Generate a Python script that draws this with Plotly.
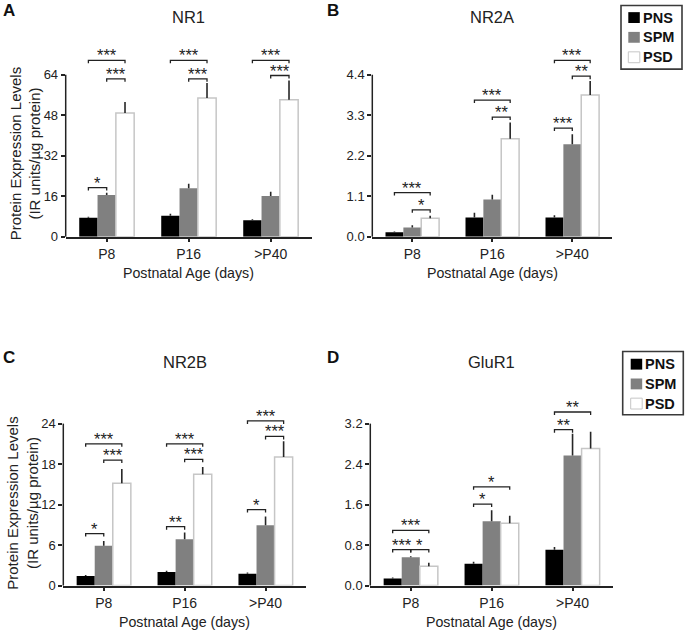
import plotly.graph_objects as go

# ---------------- data ----------------
categories = ["P8", "P16", ">P40"]
fractions = ["PNS", "SPM", "PSD"]

nr1_pns = [7.5, 8.3, 6.5]
nr1_pns_err = [0.4, 0.8, 0.4]
nr1_spm = [16.5, 19.1, 16.1]
nr1_spm_err = [0.9, 1.8, 1.7]
nr1_psd = [48.9, 54.8, 54.1]
nr1_psd_err = [4.3, 5.9, 7.6]

nr2a_pns = [0.12, 0.52, 0.52]
nr2a_pns_err = [0.02, 0.13, 0.06]
nr2a_spm = [0.25, 1.01, 2.51]
nr2a_spm_err = [0.06, 0.13, 0.27]
nr2a_psd = [0.50, 2.66, 3.85]
nr2a_psd_err = [0.07, 0.44, 0.38]

nr2b_pns = [1.41, 2.0, 1.76]
nr2b_pns_err = [0.15, 0.2, 0.19]
nr2b_spm = [5.9, 6.88, 8.93]
nr2b_spm_err = [0.7, 0.97, 1.31]
nr2b_psd = [15.17, 16.5, 19.07]
nr2b_psd_err = [2.1, 1.06, 2.3]

glur1_pns = [0.14, 0.43, 0.71]
glur1_pns_err = [0.02, 0.04, 0.05]
glur1_spm = [0.56, 1.27, 2.57]
glur1_spm_err = [0.02, 0.22, 0.43]
glur1_psd = [0.38, 1.23, 2.71]
glur1_psd_err = [0.07, 0.15, 0.33]

# y tick values / labels
nr1_ticks = [0, 16, 32, 48, 64]
nr1_ticktext = ["0", "16", "32", "48", "64"]
nr2a_ticks = [0, 1.1, 2.2, 3.3, 4.4]
nr2a_ticktext = ["0.0", "1.1", "2.2", "3.3", "4.4"]
nr2b_ticks = [0, 6, 12, 18, 24]
nr2b_ticktext = ["0", "6", "12", "18", "24"]
glur1_ticks = [0, 0.8, 1.6, 2.4, 3.2]
glur1_ticktext = ["0.0", "0.8", "1.6", "2.4", "3.2"]

# significance brackets: (category index, bar a, bar b, height, label)
nr1_sig = [(0, 0, 1, 19.4, "*"), (0, 0, 2, 69.7, "***"), (0, 1, 2, 62.4, "***"),
           (1, 0, 2, 69.7, "***"), (1, 1, 2, 62.4, "***"),
           (2, 0, 2, 69.7, "***"), (2, 1, 2, 63.7, "***")]
nr2a_sig = [(0, 0, 2, 1.20, "***"), (0, 1, 2, 0.73, "*"),
            (1, 0, 2, 3.71, "***"), (1, 1, 2, 3.25, "**"),
            (2, 0, 1, 2.95, "***"), (2, 0, 2, 4.79, "***"), (2, 1, 2, 4.36, "**")]
nr2b_sig = [(0, 0, 1, 7.7, "*"), (0, 0, 2, 21.0, "***"), (0, 1, 2, 18.6, "***"),
            (1, 0, 1, 8.73, "**"), (1, 0, 2, 21.0, "***"), (1, 1, 2, 18.7, "***"),
            (2, 0, 1, 11.27, "*"), (2, 0, 2, 24.4, "***"), (2, 1, 2, 22.1, "***")]
glur1_sig = [(0, 0, 1, 0.71, "***"), (0, 1, 2, 0.71, "*"), (0, 0, 2, 1.09, "***"),
             (1, 0, 1, 1.61, "*"), (1, 0, 2, 1.95, "*"),
             (2, 0, 1, 3.08, "**"), (2, 0, 2, 3.43, "**")]

# ---------------- styling / layout ----------------
W, H = 687, 639
FONT = "Arial, 'Liberation Sans', sans-serif"
TXT = "#222222"
fill_colors = ["#000000", "#808080", "#ffffff"]
line_colors = ["#000000", "#808080", "#c6c6c6"]
line_widths = [0, 0, 1.5]
BARGAP = 0.33
RATIO = 1.22   # plot height relative to top tick


def px(x):
    return x / W


def py(y):
    return 1 - y / H


panels = [
    dict(letter="A", title="NR1", left=65.7, right=311.7, bottom=239.7, tickpx=75.7,
         series=[(nr1_pns, nr1_pns_err), (nr1_spm, nr1_spm_err), (nr1_psd, nr1_psd_err)],
         ticks=nr1_ticks, ticktext=nr1_ticktext, sig=nr1_sig, ytitle=True, legend=None,
         letter_pos=(9, 11), title_y=17),
    dict(letter="B", title="NR2A", left=372.3, right=612.3, bottom=239.7, tickpx=75.7,
         series=[(nr2a_pns, nr2a_pns_err), (nr2a_spm, nr2a_spm_err), (nr2a_psd, nr2a_psd_err)],
         ticks=nr2a_ticks, ticktext=nr2a_ticktext, sig=nr2a_sig, ytitle=False,
         legend=dict(box=(621, 5.5, 682, 70), sq_x=628.3, rows=[17.8, 37.8, 58.0]),
         letter_pos=(333, 11), title_y=17),
    dict(letter="C", title="NR2B", left=63.3, right=306.0, bottom=593.0, tickpx=429.0,
         series=[(nr2b_pns, nr2b_pns_err), (nr2b_spm, nr2b_spm_err), (nr2b_psd, nr2b_psd_err)],
         ticks=nr2b_ticks, ticktext=nr2b_ticktext, sig=nr2b_sig, ytitle=True, legend=None,
         letter_pos=(9, 362), title_y=367),
    dict(letter="D", title="GluR1", left=370.3, right=613.0, bottom=593.0, tickpx=429.0,
         series=[(glur1_pns, glur1_pns_err), (glur1_spm, glur1_spm_err), (glur1_psd, glur1_psd_err)],
         ticks=glur1_ticks, ticktext=glur1_ticktext, sig=glur1_sig, ytitle=False,
         legend=dict(box=(622.7, 356, 683.3, 420), sq_x=630.7, rows=[368.8, 388.8, 408.7]),
         letter_pos=(333, 362), title_y=367),
]

fig = go.Figure()
shapes = []
annotations = []
xpos = [0, 1, 2]
bar_step = (1 - BARGAP) / 3

for n, p in enumerate(panels, start=1):
    sfx = "" if n == 1 else str(n)
    xa, ya = "x" + sfx, "y" + sfx
    top_tick = p["ticks"][-1]
    span_px = (p["bottom"] - p["tickpx"]) * RATIO
    ymax = top_tick * RATIO
    ydom = [py(p["bottom"]), py(p["bottom"] - span_px)]
    xdom = [px(p["left"]), px(p["right"])]

    for k, (vals, errs) in enumerate(p["series"]):
        fig.add_trace(go.Bar(
            x=xpos, y=vals, name=fractions[k], xaxis=xa, yaxis=ya, showlegend=False,
            marker=dict(color=fill_colors[k], line=dict(color=line_colors[k], width=line_widths[k])),
            error_y=dict(type="data", symmetric=False, array=errs, arrayminus=[0] * len(errs),
                         width=0, thickness=1.6, color="#262626"),
        ))

    fig.update_layout({
        "xaxis" + sfx: dict(domain=xdom, anchor=ya, range=[-0.5, 2.5], tickvals=xpos,
                            ticktext=categories, showline=True, linecolor=TXT, linewidth=1.5,
                            ticks="outside", ticklen=4, tickwidth=1.5, tickcolor=TXT,
                            tickfont=dict(size=14, color=TXT, family=FONT),
                            showgrid=False, zeroline=False, fixedrange=True),
        "yaxis" + sfx: dict(domain=ydom, anchor=xa, range=[0, ymax], tickvals=p["ticks"],
                            ticktext=p["ticktext"], showline=False, ticks="outside",
                            ticklen=4, tickwidth=1.5, tickcolor=TXT,
                            tickfont=dict(size=13, color=TXT, family=FONT),
                            showgrid=False, zeroline=False, fixedrange=True),
    })

    # y axis line only from 0 to the top tick
    y_line_top = ydom[0] + (ydom[1] - ydom[0]) * top_tick / ymax
    shapes.append(dict(type="line", xref="paper", yref="paper", x0=xdom[0], x1=xdom[0],
                       y0=ydom[0], y1=y_line_top, line=dict(color=TXT, width=1.5)))

    # significance brackets
    tick_len = ymax * 3.0 / span_px
    for (c, a, b, h, lab) in p["sig"]:
        xa0 = xpos[c] + (a - 1) * bar_step
        xb0 = xpos[c] + (b - 1) * bar_step
        shapes.append(dict(type="path", xref=xa, yref=ya,
                           path=f"M {xa0},{h - tick_len} L {xa0},{h} L {xb0},{h} L {xb0},{h - tick_len}",
                           line=dict(color=TXT, width=1.3)))
        annotations.append(dict(xref=xa, yref=ya, x=(xa0 + xb0) / 2, y=h, text=lab,
                                showarrow=False, yanchor="bottom", yshift=-6,
                                font=dict(size=16.5, color=TXT, family=FONT)))

    # title
    annotations.append(dict(xref="paper", yref="paper", x=(xdom[0] + xdom[1]) / 2,
                            y=py(p["title_y"]), text=p["title"], showarrow=False,
                            xanchor="center", yanchor="middle",
                            font=dict(size=16.5, color=TXT, family=FONT)))
    # panel letter
    annotations.append(dict(xref="paper", yref="paper", x=px(p["letter_pos"][0]),
                            y=py(p["letter_pos"][1]), text="<b>" + p["letter"] + "</b>",
                            showarrow=False, xanchor="center", yanchor="middle",
                            font=dict(size=17, color="#111111", family=FONT)))
    # x axis title
    annotations.append(dict(xref="paper", yref="paper", x=(xdom[0] + xdom[1]) / 2,
                            y=py(p["bottom"] + 36.5), text="Postnatal Age (days)",
                            showarrow=False, xanchor="center", yanchor="middle",
                            font=dict(size=14.2, color=TXT, family=FONT)))
    # y axis title
    if p["ytitle"]:
        annotations.append(dict(xref="paper", yref="paper", x=px(p["left"] - 40.7),
                                y=py((p["bottom"] + p["tickpx"]) / 2 - 1.5),
                                text="Protein Expression Levels<br>(IR units/\u00b5g protein)",
                                textangle=-90, showarrow=False, xanchor="center",
                                yanchor="middle",
                                font=dict(size=15, color=TXT, family=FONT)))

    # legend box
    lg = p["legend"]
    if lg:
        bx0, by0, bx1, by1 = lg["box"]
        shapes.append(dict(type="rect", xref="paper", yref="paper", x0=px(bx0), x1=px(bx1),
                           y0=py(by1), y1=py(by0), line=dict(color="#3a3a3a", width=1.6),
                           fillcolor="rgba(0,0,0,0)"))
        for k, name in enumerate(fractions):
            cy = lg["rows"][k]
            sx = lg["sq_x"]
            shapes.append(dict(type="rect", xref="paper", yref="paper",
                               x0=px(sx), x1=px(sx + 11.5), y0=py(cy + 5.5), y1=py(cy - 5.5),
                               fillcolor=fill_colors[k],
                               line=dict(color=line_colors[k] if k == 2 else fill_colors[k],
                                         width=1 if k == 2 else 0)))
            annotations.append(dict(xref="paper", yref="paper", x=px(sx + 12.5), y=py(cy),
                                    text="<b>" + name + "</b>", showarrow=False,
                                    xanchor="left", yanchor="middle",
                                    font=dict(size=14.5, color="#111111", family=FONT)))

fig.update_layout(
    width=W, height=H, margin=dict(l=0, r=0, t=0, b=0),
    paper_bgcolor="white", plot_bgcolor="white",
    barmode="group", bargap=BARGAP, bargroupgap=0,
    showlegend=False, shapes=shapes, annotations=annotations,
    font=dict(family=FONT, color=TXT),
)

fig.write_html(
    "out.html",
    config={"displayModeBar": False},
    post_script="document.body.style.margin='0';document.body.style.padding='0';",
)
